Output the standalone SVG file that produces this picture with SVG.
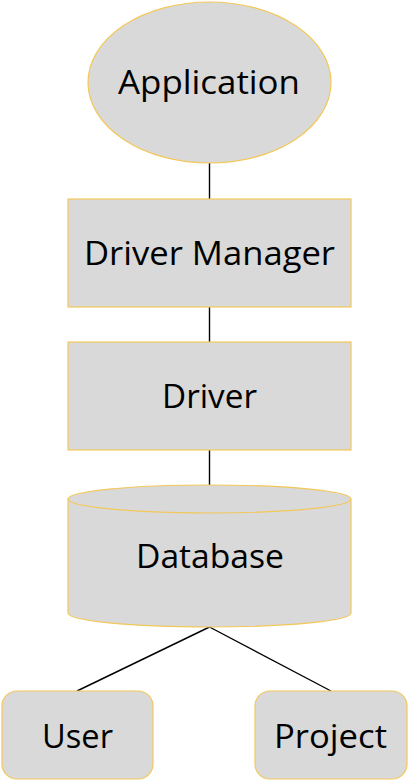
<svg xmlns="http://www.w3.org/2000/svg" width="409" height="781" viewBox="0 0 409 781">
<style>
.n{fill:#d9d9d9;stroke:#f3c85a;stroke-width:1.2}
.t{font-family:"Open Sans","Liberation Sans",Arial,sans-serif;font-size:33px;fill:#000}
.c{stroke:#000;stroke-width:1.4;fill:none}
</style>
<rect width="409" height="781" fill="#fff"/>
<g id="connectors">
<line class="c" x1="209.5" y1="163" x2="209.5" y2="199"/>
<line class="c" x1="209.5" y1="307" x2="209.5" y2="342"/>
<line class="c" x1="209.5" y1="450" x2="209.5" y2="485"/>
<line class="c" x1="209.5" y1="627" x2="77" y2="691"/>
<line class="c" x1="209.5" y1="627" x2="331" y2="691"/>
</g>
<g id="application">
<ellipse class="n" cx="209.5" cy="82.5" rx="121.5" ry="80.5"/>
<text class="t" x="118" y="94" textLength="182" lengthAdjust="spacingAndGlyphs">Application</text>
</g>
<g id="driver-manager">
<rect class="n" x="68" y="199" width="283" height="108"/>
<text class="t" x="84" y="265" textLength="251" lengthAdjust="spacingAndGlyphs">Driver Manager</text>
</g>
<g id="driver">
<rect class="n" x="68" y="342" width="283" height="108"/>
<text class="t" x="162" y="408" textLength="95" lengthAdjust="spacingAndGlyphs">Driver</text>
</g>
<g id="database">
<path class="n" d="M68,499 A141.5,14 0 0 1 351,499 L351,613 A141.5,14 0 0 1 68,613 Z"/>
<path class="n" d="M68,499 A141.5,14 0 0 0 351,499"/>
<text class="t" x="136" y="568" textLength="148" lengthAdjust="spacingAndGlyphs">Database</text>
</g>
<g id="user">
<rect class="n" x="2" y="691" width="151" height="88" rx="15" ry="15"/>
<text class="t" x="42" y="748" textLength="71" lengthAdjust="spacingAndGlyphs">User</text>
</g>
<g id="project">
<rect class="n" x="255" y="691" width="152" height="88" rx="15" ry="15"/>
<text class="t" x="274" y="748" textLength="113" lengthAdjust="spacingAndGlyphs">Project</text>
</g>
</svg>
